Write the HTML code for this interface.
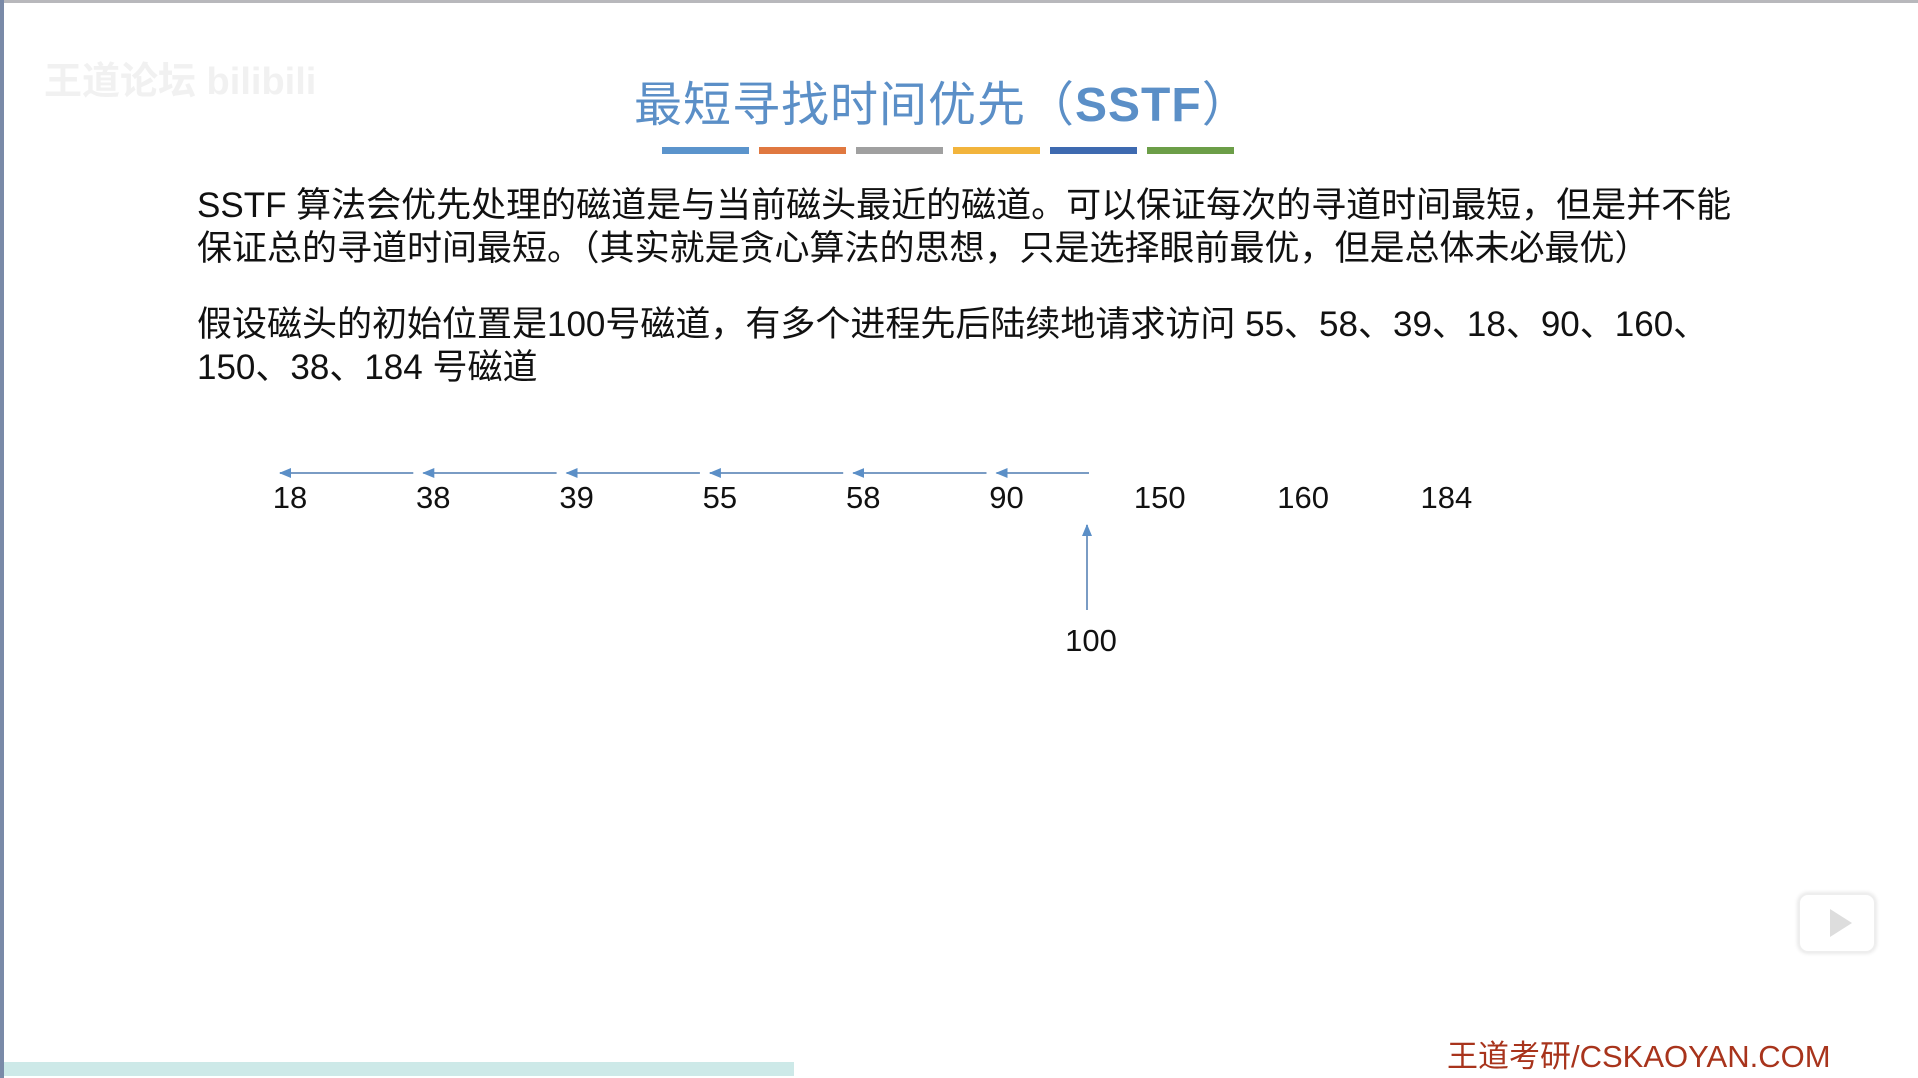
<!DOCTYPE html>
<html><head><meta charset="utf-8">
<style>
html,body{margin:0;padding:0;}
body{width:1918px;height:1078px;position:relative;overflow:hidden;background:#fff;font-family:"Liberation Sans","Noto Sans CJK SC",sans-serif;}
.t{position:absolute;white-space:nowrap;color:#111;}
</style></head><body>
<div style="position:absolute;left:0;top:0;width:1918px;height:3px;background:#b8b8bc"></div>
<div style="position:absolute;left:0;top:0;width:4px;height:1078px;background:#7a8aa8"></div>
<div class="t" style="left:44px;top:50px;font-size:38px;color:#f1f1f1;font-weight:bold">王道论坛 bilibili</div>
<div class="t" style="left:634px;top:65px;font-size:48px;color:#5b8fc7;letter-spacing:1px">最短寻找时间优先（<b>SSTF</b>）</div>
<div style="position:absolute;left:662px;top:147px;width:572px;height:7px;display:flex;gap:10px">
<div style="flex:1;background:#5b94cc"></div><div style="flex:1;background:#e07840"></div><div style="flex:1;background:#a0a0a0"></div><div style="flex:1;background:#f2b43c"></div><div style="flex:1;background:#3e6ab0"></div><div style="flex:1;background:#6c9e48"></div></div>
<div class="t" style="left:197px;top:184px;font-size:35px;line-height:43px">SSTF 算法会优先处理的磁道是与当前磁头最近的磁道。可以保证每次的寻道时间最短，但是并不能<br>保证总的寻道时间最短。（其实就是贪心算法的思想，只是选择眼前最优，但是总体未必最优）</div>
<div class="t" style="left:197px;top:303px;font-size:35px;line-height:43px">假设磁头的初始位置是100号磁道，有多个进程先后陆续地请求访问 55、58、39、18、90、160、<br>150、38、184 号磁道</div>
<svg id="chart" width="1918" height="1078" style="position:absolute;left:0;top:0">
<defs><marker id="ah" markerWidth="12" markerHeight="10" refX="11" refY="5" orient="auto" markerUnits="userSpaceOnUse"><path d="M0,0 L12,5 L0,10 Z" fill="#5b8fc7"/></marker></defs>
</svg>
<div class="t" style="left:1447px;top:1031px;font-size:31px;color:#a8341c">王道考研/CSKAOYAN.COM</div>
<div style="position:absolute;left:1798px;top:893px;width:74px;height:56px;border-radius:10px;border:2px solid #eee;box-shadow:0 0 4px #ddd"><div style="position:absolute;left:30px;top:14px;border-left:22px solid #ddd;border-top:14px solid transparent;border-bottom:14px solid transparent"></div></div>
<div style="position:absolute;left:4px;top:1062px;width:790px;height:14px;background:#cde9e8"></div>
<script>
const tracks=[18,38,39,55,58,90,150,160,184];
const visitOrder=[100,90,58,55,39,38,18];
const startTrack=100;
const svg=document.getElementById('chart');
const NS='http://www.w3.org/2000/svg';
function xOf(t){const i=tracks.indexOf(t);if(i>=0)return 290+i*143.3+(i>=6?10:0);return 1089;}
const labelY=508, arrowY=473;
tracks.forEach(t=>{
 const el=document.createElementNS(NS,'text');
 el.setAttribute('x',xOf(t));el.setAttribute('y',labelY);
 el.setAttribute('text-anchor','middle');el.setAttribute('font-size','31');
 el.setAttribute('font-family','Liberation Sans, sans-serif');el.setAttribute('fill','#111');
 el.textContent=t;
 
 
 svg.appendChild(el);
});
for(let i=0;i<visitOrder.length-1;i++){
 const a=visitOrder[i],b=visitOrder[i+1];
 const x1=(a===startTrack)?1089:xOf(a)-20, x2=xOf(b)-10;
 const ln=document.createElementNS(NS,'line');
 ln.setAttribute('x1',x1);ln.setAttribute('x2',x2);ln.setAttribute('y1',arrowY);ln.setAttribute('y2',arrowY);
 ln.setAttribute('stroke','#7a9cc4');ln.setAttribute('stroke-width','2');ln.setAttribute('marker-end','url(#ah)');
 
 
 svg.appendChild(ln);
}
const v=document.createElementNS(NS,'line');
v.setAttribute('x1',1087);v.setAttribute('x2',1087);v.setAttribute('y1',610);v.setAttribute('y2',525);
v.setAttribute('stroke','#7a9cc4');v.setAttribute('stroke-width','2');v.setAttribute('marker-end','url(#ah)');


svg.appendChild(v);
const s=document.createElementNS(NS,'text');
s.setAttribute('x',1091);s.setAttribute('y',651);s.setAttribute('text-anchor','middle');s.setAttribute('font-size','31');
s.setAttribute('font-family','Liberation Sans, sans-serif');s.setAttribute('fill','#111');s.textContent=startTrack;


svg.appendChild(s);
</script>
</body></html>
